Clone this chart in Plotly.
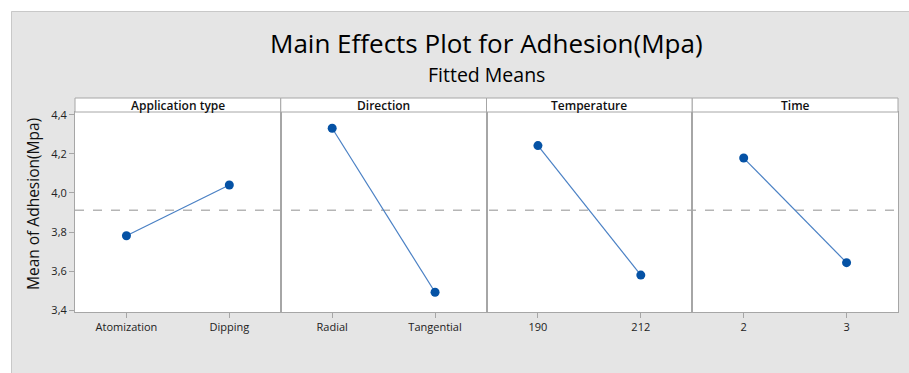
import plotly.graph_objects as go
from plotly.subplots import make_subplots

# Factors and their levels
factors = ["Application type", "Direction", "Temperature", "Time"]
levels = [
    ["Atomization", "Dipping"],
    ["Radial", "Tangential"],
    ["190", "212"],
    ["2", "3"],
]
# Fitted mean adhesion (MPa) at each level
means = [
    [3.781, 4.041],
    [4.332, 3.491],
    [4.243, 3.579],
    [4.179, 3.643],
]
grand_mean = 3.911
y_ticks = [3.4, 3.6, 3.8, 4.0, 4.2, 4.4]

W, H = 909, 373
ML, MR, MT, MB = 75, 11, 112, 61
plot_w = W - ML - MR
plot_h = H - MT - MB


def px_x(px):
    return (px - ML) / plot_w


def px_y(py):
    return (H - MB - py) / plot_h


fig = make_subplots(rows=1, cols=4, shared_yaxes=True, horizontal_spacing=0)

line_col = "#4a80c4"
mark_col = "#0552a5"
frame_col = "#a6a6a6"
font_fam = "Open Sans, Noto Sans, DejaVu Sans, sans-serif"

for i, (lv, mv) in enumerate(zip(levels, means)):
    fig.add_trace(
        go.Scatter(
            x=lv, y=mv, mode="lines+markers",
            line=dict(color=line_col, width=1.2),
            marker=dict(color=mark_col, size=9),
            showlegend=False, cliponaxis=False,
        ),
        row=1, col=i + 1,
    )
    fig.update_xaxes(
        type="category", range=[-0.5, 1.5],
        showline=True, mirror=True, linecolor=frame_col, linewidth=1,
        showgrid=False, zeroline=False,
        ticks="outside", ticklen=5, tickcolor=frame_col,
        tickfont=dict(size=11, color="#222222", family=font_fam),
        row=1, col=i + 1,
    )

fig.update_yaxes(
    range=[3.39, 4.415], tickvals=y_ticks, tickformat=".1f",
    showline=True, mirror=True, linecolor=frame_col, linewidth=1,
    showgrid=False, zeroline=False,
    ticks="outside", ticklen=5, tickcolor=frame_col,
    tickfont=dict(size=11, color="#222222", family=font_fam),
)
for c in range(2, 5):
    fig.update_yaxes(ticks="", showticklabels=False, row=1, col=c)

shapes = []
# White margin strip around the grey panel
shapes.append(dict(type="rect", xref="paper", yref="paper",
                   x0=px_x(-5), x1=px_x(W + 5), y0=px_y(11), y1=px_y(-5),
                   fillcolor="white", line=dict(width=0), layer="below"))
shapes.append(dict(type="rect", xref="paper", yref="paper",
                   x0=px_x(-5), x1=px_x(11), y0=px_y(H + 5), y1=px_y(-5),
                   fillcolor="white", line=dict(width=0), layer="below"))
shapes.append(dict(type="path", xref="paper", yref="paper",
                   path=f"M {px_x(11.5)} {px_y(H + 5)} L {px_x(11.5)} {px_y(11.5)} L {px_x(W + 5)} {px_y(11.5)}",
                   line=dict(color="#c8c8c8", width=1), layer="below"))

# Grand-mean reference line
shapes.append(dict(type="line", xref="paper", yref="y",
                   x0=0, x1=1, y0=grand_mean, y1=grand_mean,
                   line=dict(color="#b5b5b5", width=1.5, dash="dash"),
                   layer="below"))


def label(x, y, text, size, weight=400, angle=0, color="#111111"):
    fig.add_annotation(x=x, y=y, xref="paper", yref="paper", text=text,
                       showarrow=False, textangle=angle,
                       xanchor="center", yanchor="middle",
                       font=dict(size=size, color=color, family=font_fam, weight=weight))


# Panel header strips
n = len(factors)
for i, name in enumerate(factors):
    x0, x1 = i / n, (i + 1) / n
    shapes.append(dict(type="rect", xref="paper", yref="paper",
                       x0=x0, x1=x1, y0=1, y1=px_y(98),
                       fillcolor="white", line=dict(color=frame_col, width=1)))
    label((x0 + x1) / 2, px_y(105), name, 12, weight=600)

label(px_x(33), px_y(204), "Mean of Adhesion(Mpa)", 15.5, angle=-90)
label(px_x(486), px_y(42.5), "Main Effects Plot for Adhesion(Mpa)", 26, color="#000000")
label(px_x(486), px_y(74), "Fitted Means", 19.5, color="#000000")

fig.update_layout(
    width=W, height=H,
    margin=dict(l=ML, r=MR, t=MT, b=MB, pad=0),
    paper_bgcolor="#e5e5e5", plot_bgcolor="white",
    separators=", ",
    shapes=shapes,
    font=dict(family=font_fam),
)

fig.write_html("out.html")
